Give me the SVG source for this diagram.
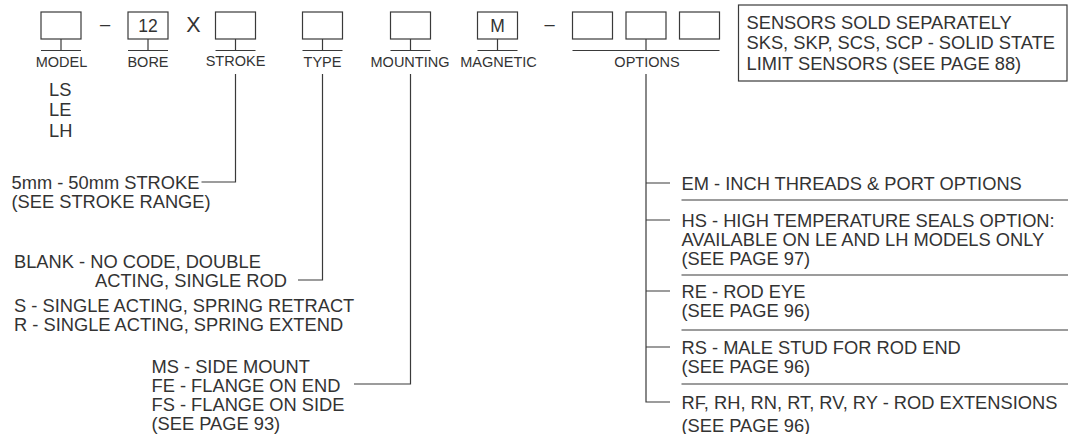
<svg xmlns="http://www.w3.org/2000/svg" width="1068" height="434" viewBox="0 0 1068 434">
<style>
  text { font-family: "Liberation Sans", Arial, sans-serif; fill: #333333; }
  .lbl { font-size: 14.5px; text-anchor: middle; }
  .d { font-size: 18.3px; }
  .code { font-size: 17.5px; text-anchor: middle; }
  .box { fill: #ffffff; stroke: #3a3a3a; stroke-width: 1.2; }
  .ln { fill: none; stroke: #3a3a3a; stroke-width: 1.2; }
</style>
<rect width="1068" height="434" fill="#ffffff"/>

<g id="model">
  <rect class="box" x="41" y="12" width="40" height="27"/>
  <path class="ln" d="M61 39V50.5M41 50.5H81"/>
  <text class="lbl" x="61.5" y="66.5">MODEL</text>
  <text class="d" x="49" y="96">LS</text>
  <text class="d" x="49" y="116">LE</text>
  <text class="d" x="49" y="136.5">LH</text>
</g>
<text class="d" x="105" y="30" text-anchor="middle">–</text>
<g id="bore">
  <rect class="box" x="128" y="12" width="40" height="27"/>
  <text class="code" x="148" y="31.5">12</text>
  <path class="ln" d="M148 39V50.5M128 50.5H168"/>
  <text class="lbl" x="148" y="66.5">BORE</text>
</g>
<text x="193.5" y="31.5" font-size="21.5" text-anchor="middle">X</text>
<g id="stroke">
  <rect class="box" x="215.5" y="12" width="40" height="27"/>
  <path class="ln" d="M235.5 39V50.5M215.5 50.5H255.5"/>
  <text class="lbl" x="235.5" y="66">STROKE</text>
</g>
<g id="type">
  <rect class="box" x="302.5" y="12" width="40" height="27"/>
  <path class="ln" d="M322.5 39V50.5M302.5 50.5H342.5"/>
  <text class="lbl" x="322.5" y="66.5">TYPE</text>
</g>
<g id="mounting">
  <rect class="box" x="390.5" y="12" width="40" height="27"/>
  <path class="ln" d="M410.5 39V50.5M390.5 50.5H430.5"/>
  <text class="lbl" x="410" y="66.5">MOUNTING</text>
</g>
<g id="magnetic">
  <rect class="box" x="477.5" y="12" width="40" height="27"/>
  <text class="code" x="497.5" y="31.5">M</text>
  <path class="ln" d="M497.5 39V50.5M477.5 50.5H517.5"/>
  <text class="lbl" x="498.5" y="66.5">MAGNETIC</text>
</g>
<text class="d" x="549.5" y="30" text-anchor="middle">–</text>
<g id="options">
  <rect class="box" x="572.5" y="12" width="40" height="27"/>
  <rect class="box" x="626" y="12" width="40" height="27"/>
  <rect class="box" x="679.5" y="12" width="40" height="27"/>
  <path class="ln" d="M646 39V50.5M572.5 50.5H719.5"/>
  <text class="lbl" x="647" y="66.5">OPTIONS</text>
</g>
<g id="sensors">
  <rect class="box" x="738.5" y="5" width="328.5" height="76"/>
  <text class="d" x="746.5" y="28.5">SENSORS SOLD SEPARATELY</text>
  <text class="d" x="746.5" y="49">SKS, SKP, SCS, SCP - SOLID STATE</text>
  <text class="d" x="746.5" y="69.5">LIMIT SENSORS (SEE PAGE 88)</text>
</g>

<g id="stroke-desc">
  <text class="d" x="11.5" y="188.5">5mm - 50mm STROKE</text>
  <text class="d" x="11.5" y="207.5">(SEE STROKE RANGE)</text>
</g>
<g id="type-desc">
  <text class="d" x="14" y="268">BLANK - NO CODE, DOUBLE</text>
  <text class="d" x="95" y="287">ACTING, SINGLE ROD</text>
  <text class="d" x="14" y="311.5">S - SINGLE ACTING, SPRING RETRACT</text>
  <text class="d" x="14" y="330.5">R - SINGLE ACTING, SPRING EXTEND</text>
</g>
<g id="mounting-desc">
  <text class="d" x="151.5" y="372.5">MS - SIDE MOUNT</text>
  <text class="d" x="151.5" y="391.5">FE - FLANGE ON END</text>
  <text class="d" x="151.5" y="410.5">FS - FLANGE ON SIDE</text>
  <text class="d" x="151.5" y="429.5">(SEE PAGE 93)</text>
</g>
<g id="options-desc">
  <text class="d" x="681.5" y="189.5">EM - INCH THREADS &amp; PORT OPTIONS</text>
  <text class="d" x="681.5" y="226.5">HS - HIGH TEMPERATURE SEALS OPTION:</text>
  <text class="d" x="681.5" y="245.5">AVAILABLE ON LE AND LH MODELS ONLY</text>
  <text class="d" x="681.5" y="264.5">(SEE PAGE 97)</text>
  <text class="d" x="681.5" y="297.5">RE - ROD EYE</text>
  <text class="d" x="681.5" y="316.5">(SEE PAGE 96)</text>
  <text class="d" x="681.5" y="353.5">RS - MALE STUD FOR ROD END</text>
  <text class="d" x="681.5" y="372.5">(SEE PAGE 96)</text>
  <text class="d" x="681.5" y="408.5">RF, RH, RN, RT, RV, RY - ROD EXTENSIONS</text>
  <text class="d" x="681.5" y="432">(SEE PAGE 96)</text>
  <path class="ln" d="M681.5 200H1068M681.5 275H1068M681.5 330H1068M681.5 384H1068"/>
</g>

<g id="connectors">
  <path class="ln" d="M235.5 74V182H201.5"/>
  <path class="ln" d="M322.5 74V280H298"/>
  <path class="ln" d="M410.5 74V384H354"/>
  <path class="ln" d="M646 74V402H670M646 183H670M646 220H670M646 291H670M646 347H670"/>
</g>
</svg>
